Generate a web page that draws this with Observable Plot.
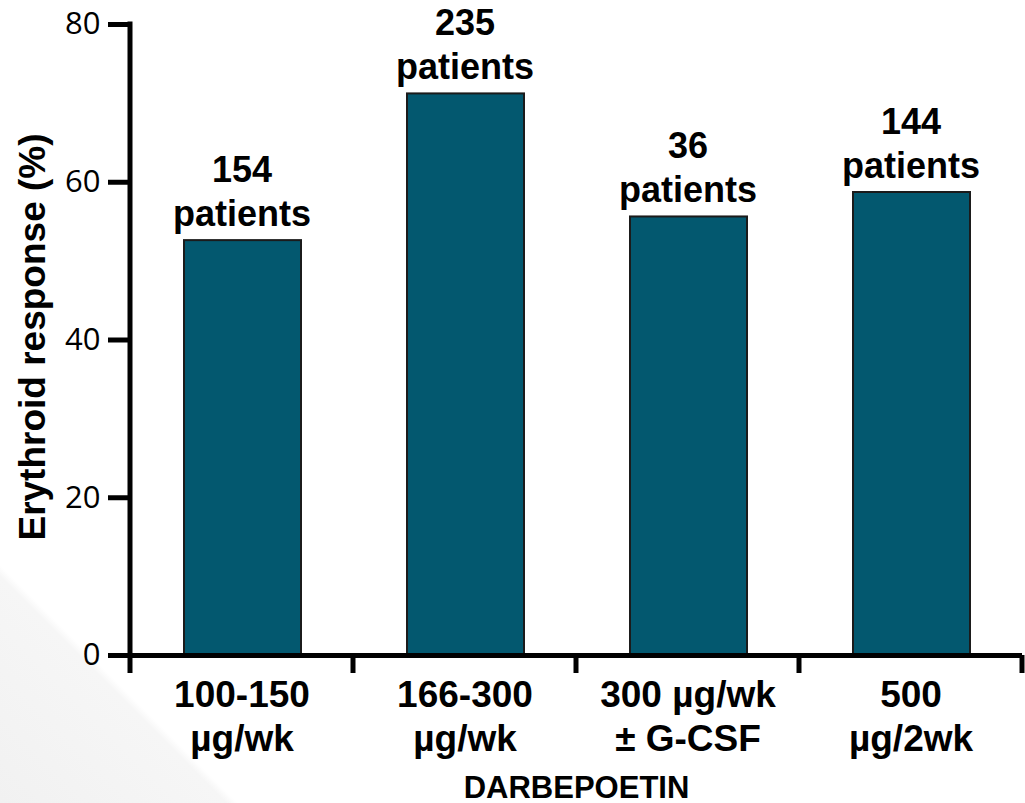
<!DOCTYPE html>
<html>
<head>
<meta charset="utf-8">
<script src="https://cdn.jsdelivr.net/npm/d3@7"></script>
<script src="https://cdn.jsdelivr.net/npm/@observablehq/plot@0.6"></script>
<style>
  html, body { margin: 0; padding: 0; }
  body {
    width: 1025px; height: 803px; overflow: hidden;
    background: linear-gradient(45deg, #f1f1f1 0%, #f6f6f6 12.4%, #ffffff 13%, #ffffff 100%);
    font-family: "Liberation Sans", Arial, sans-serif;
  }
</style>
</head>
<body>
<div id="chart"></div>
<script>
// ---- data ----
const categories = ["100-150\nµg/wk", "166-300\nµg/wk", "300 µg/wk\n± G-CSF", "500\nµg/2wk"];
const responses = [52.6, 71.2, 55.6, 58.7];
const patients = [154, 235, 36, 144];
const yTicks = [0, 20, 40, 60, 80];
const xTitle = "DARBEPOETIN";
const yTitle = "Erythroid response (%)";

const data = categories.map((c, i) => ({cat: c, value: responses[i], n: patients[i]}));

const barFill = "#03586f";
const bold = "Liberation Sans, Arial, sans-serif";

// custom mark: y axis line and x boundary ticks, from the plot's scales
function axisFrame(index, scales, values, dims) {
  const x = scales.x, y = scales.y;
  const bw = typeof x.bandwidth === "function" ? x.bandwidth() : scales.scales.x.bandwidth;
  const g = d3.create("svg:g").attr("stroke", "#000").attr("stroke-width", 5).attr("fill", "none");
  const edges = categories.map(c => x(c));
  edges.push(x(categories[categories.length - 1]) + bw);
  for (const e of edges) {
    g.append("line").attr("x1", e).attr("x2", e).attr("y1", y(0)).attr("y2", y(0) + 18);
  }
  g.append("line")
    .attr("x1", dims.marginLeft).attr("x2", dims.marginLeft)
    .attr("y1", y(yTicks[yTicks.length - 1]) - 2.5).attr("y2", y(0) + 2.5);
  return g.node();
}

const chart = Plot.plot({
  width: 1025,
  height: 803,
  marginLeft: 130,
  marginRight: 3,
  marginTop: 24,
  marginBottom: 148,
  style: {background: "transparent", overflow: "visible"},
  x: {domain: categories, paddingInner: 0, paddingOuter: 0, axis: null},
  y: {domain: [0, 80], axis: null},
  marks: [
    Plot.barY(data, {x: "cat", y: "value", fill: barFill, stroke: "#1b1b1b", strokeWidth: 2, insetLeft: 54, insetRight: 52}),
    Plot.ruleY([0], {stroke: "#000", strokeWidth: 5}),
    axisFrame,
    Plot.axisY({ticks: yTicks, tickSize: 22, tickPadding: 8, strokeWidth: 5, stroke: "#000",
      fontSize: 31, fontFamily: "Open Sans, sans-serif", fill: "#000", label: null}),
    Plot.text(data, {x: "cat", y: "value", text: d => d.n + "\npatients",
      lineAnchor: "bottom", dy: -15, lineHeight: 1.22, fontSize: 36, fontWeight: "bold",
      fontFamily: bold, fill: "#000"}),
    Plot.text(data, {x: "cat", y: () => 0, text: "cat",
      lineAnchor: "top", dy: 20, lineHeight: 1.19, fontSize: 37, fontWeight: "bold",
      fontFamily: bold, fill: "#000"}),
    Plot.text([xTitle], {frameAnchor: "bottom", text: d => d, lineAnchor: "bottom", dy: 142,
      fontSize: 31, fontWeight: "bold", fontFamily: bold, fill: "#000"}),
    Plot.text([yTitle], {frameAnchor: "left", text: d => d, rotate: -90, dx: -97, dy: -3,
      textAnchor: "middle", lineAnchor: "middle",
      fontSize: 37, fontWeight: "bold", fontFamily: bold, fill: "#000"})
  ]
});
document.getElementById("chart").appendChild(chart);
</script>
</body>
</html>
